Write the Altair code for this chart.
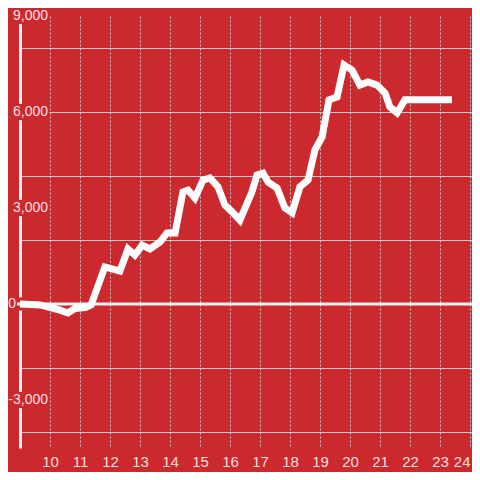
import altair as alt
import pandas as pd

# ---- data ----
hours = [9.0, 9.67, 10.33, 10.6, 10.83, 11.17, 11.37, 11.83, 12.33, 12.6, 12.83,
         13.07, 13.33, 13.67, 13.9, 14.17, 14.43, 14.6, 14.83, 15.1, 15.33, 15.6,
         15.83, 16.07, 16.33, 16.73, 16.9, 17.1, 17.27, 17.57, 17.83, 18.07, 18.33,
         18.6, 18.83, 19.07, 19.3, 19.57, 19.8, 20.07, 20.33, 20.6, 20.9, 21.17,
         21.33, 21.57, 21.83, 23.4]
values = [0, -30, -190, -280, -140, -110, -30, 1160, 1030, 1720, 1530,
          1840, 1720, 1940, 2220, 2220, 3500, 3560, 3310, 3870, 3940, 3660,
          3090, 2880, 2620, 3500, 4030, 4090, 3810, 3620, 3000, 2850, 3660,
          3870, 4810, 5220, 6380, 6470, 7470, 7310, 6840, 6940, 6840, 6590,
          6160, 5970, 6380, 6380]

hour_ticks = list(range(10, 25))
grid_values = list(range(-4000, 9001, 1000))
label_values = [9000, 6000, 3000, -3000]
label_texts = ["9,000", "6,000", "3,000", "-3,000"]
zero_value = [0]
zero_text = ["0"]

BG = "#cc292e"
LABEL = "#f7dfe0"
GRID = "#c9c9c9"
AXIS = "#f2f2f2"
FONT = "Liberation Sans"

df = pd.DataFrame({"hour": hours, "value": values})
labels_df = pd.DataFrame({"value": label_values, "text": label_texts})
zero_df = pd.DataFrame({"value": zero_value, "text": zero_text})

xscale = alt.Scale(domain=[9, 24.0667], nice=False, zero=False)
yscale = alt.Scale(domain=[-4500, 9000], nice=False, zero=False)

x_axis = alt.Axis(values=hour_ticks, grid=True, gridDash=[2, 2], gridColor=GRID,
                  gridWidth=1, domain=False, ticks=False, labelColor=LABEL,
                  labelFontSize=15, labelFont=FONT, labelPadding=6, title=None,
                  labelFlush=10)
y_axis = alt.Axis(values=grid_values, grid=True, gridColor=GRID, gridWidth=1,
                  domain=True, domainColor=AXIS, domainWidth=3, ticks=False,
                  labels=False, title=None)

line = alt.Chart(df).mark_line(color="white", strokeWidth=7, strokeCap="butt").encode(
    x=alt.X("hour:Q", scale=xscale, axis=x_axis),
    y=alt.Y("value:Q", scale=yscale, axis=y_axis),
)

boxes = alt.Chart(labels_df).transform_calculate(
    top="datum.value + 250", bot="datum.value - 250"
).mark_rect(color=BG).encode(
    x=alt.value(-20), x2=alt.value(29.5),
    y=alt.Y("top:Q", scale=yscale), y2="bot:Q",
)

zero_box = alt.Chart(zero_df).transform_calculate(
    top="datum.value + 205", bot="datum.value - 205"
).mark_rect(color=BG).encode(
    x=alt.value(-16), x2=alt.value(3),
    y=alt.Y("top:Q", scale=yscale), y2="bot:Q",
)

zero_line = alt.Chart(zero_df).mark_rule(color=AXIS, strokeWidth=3).encode(
    x=alt.value(-3), x2=alt.value(452),
    y=alt.Y("value:Q", scale=yscale),
)

labels = alt.Chart(labels_df).mark_text(
    align="right", baseline="middle", fontSize=14, font=FONT, color=LABEL
).encode(x=alt.value(28), y=alt.Y("value:Q", scale=yscale), text="text:N")

zero_label = alt.Chart(zero_df).mark_text(
    align="right", baseline="middle", fontSize=14, font=FONT, color=LABEL
).encode(x=alt.value(-4), y=alt.Y("value:Q", scale=yscale), text="text:N")

chart = alt.layer(boxes, zero_box, zero_line, line, labels, zero_label).properties(
    width=452, height=432,
    autosize=alt.AutoSizeParams(type="none"),
    padding={"left": 12, "top": 8, "right": 0, "bottom": 24},
    background=BG,
).configure_view(stroke=None)

chart.save("out.html", embed_options={"renderer": "svg", "actions": False})
